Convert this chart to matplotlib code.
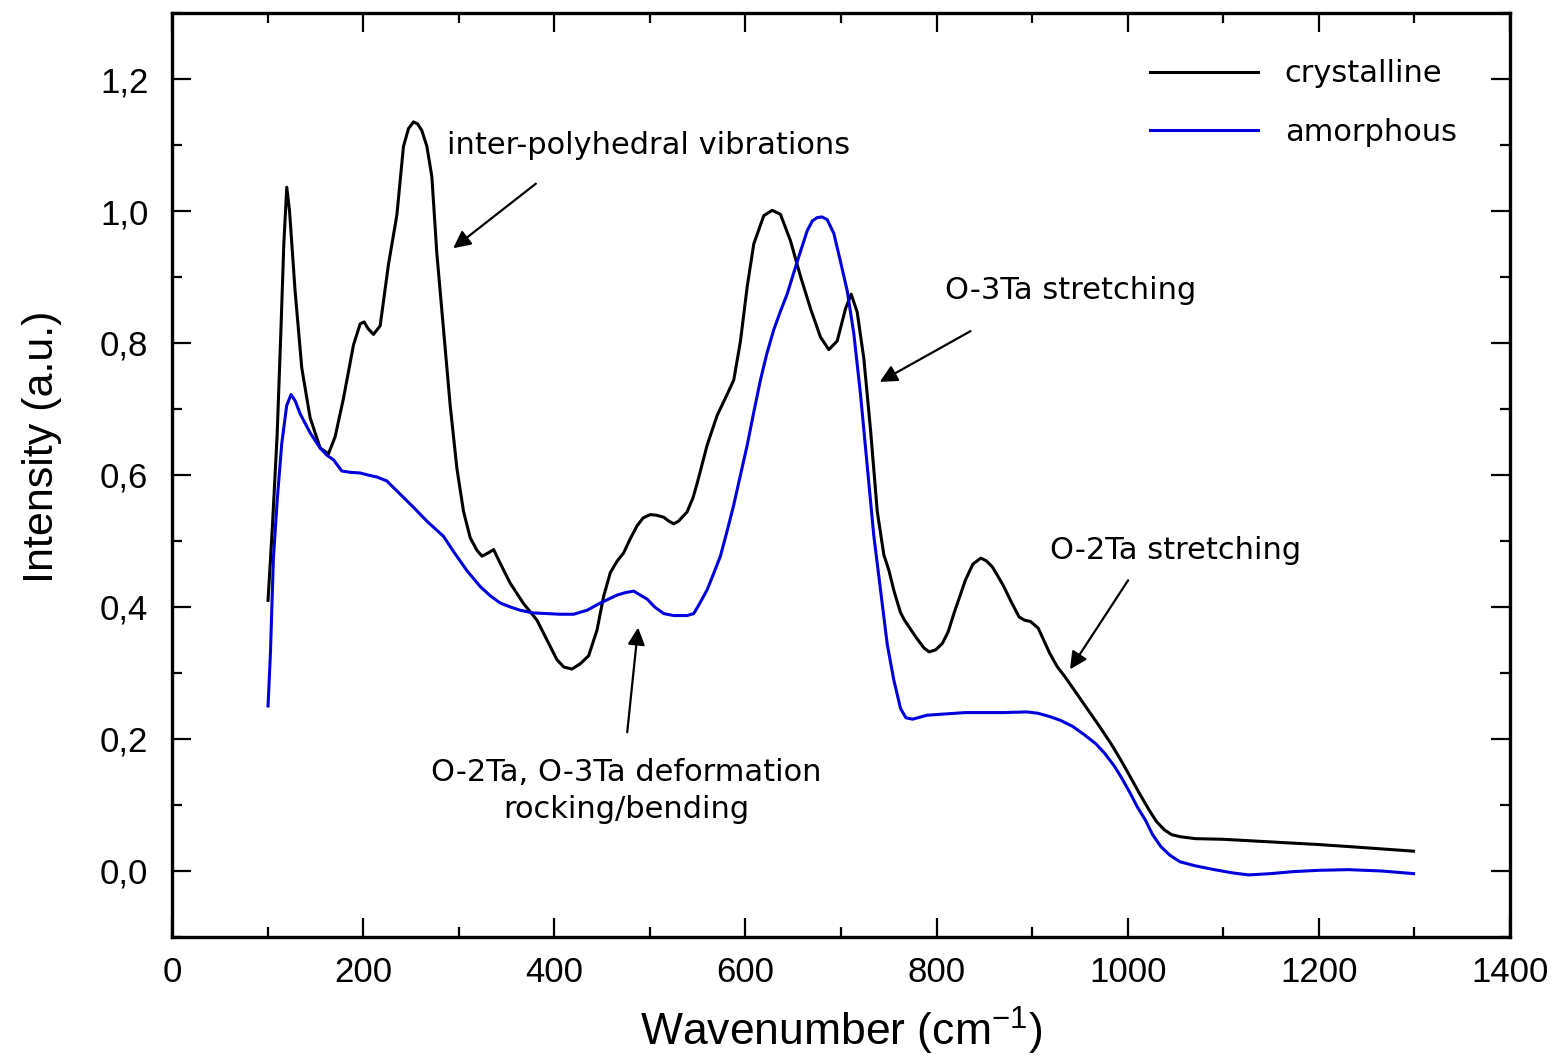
import matplotlib
matplotlib.use("Agg")
import matplotlib.pyplot as plt
from matplotlib.ticker import MultipleLocator, FuncFormatter

# Raman spectra of Ta2O5: crystalline vs amorphous
wn_cryst = [100.5, 105, 110, 114, 117, 120.1, 123, 128.8, 135.8, 144.5, 155, 163.7, 170.7,
            179.4, 189.9, 196.9, 201, 205, 210.8, 217.8, 226.5, 235.3, 242.2, 247.5, 252.7,
            257, 261.4, 266.7, 271.9, 277.1, 284.1, 291.1, 298.1, 305, 312, 319, 324.3, 331,
            336.5, 343.5, 353.9, 367.9, 381.9, 392.3, 402.8, 410, 418.5, 427.2, 435.9, 444.7,
            451.6, 458.6, 466, 472.6, 479, 486.6, 493, 500.5, 507, 514.5, 520, 525, 530, 538.9,
            545, 549.4, 559.9, 570.3, 580.8, 587.8, 594.8, 601.8, 608.7, 619.2, 628, 636.6,
            647.1, 657.6, 668.1, 678.5, 687.2, 696, 704.7, 710.6, 716.9, 723.9, 730.9, 737.9,
            744.8, 750, 755.3, 762.1, 766, 778, 786.7, 792.2, 799, 806.1, 812, 818.1, 824,
            830.2, 838, 846.2, 852, 858.2, 864, 870.3, 878, 886.3, 892, 898.3, 906.3, 912,
            918.3, 926, 934.4, 946, 958.4, 970, 982.4, 992, 1002.5, 1012, 1022.5, 1030, 1038.5,
            1046, 1054.5, 1070.6, 1100, 1150.7, 1200, 1230.9, 1270, 1299]
int_cryst = [0.41, 0.52, 0.66, 0.82, 0.95, 1.036, 1.00, 0.879, 0.762, 0.687, 0.641, 0.632, 0.658,
             0.716, 0.797, 0.829, 0.832, 0.822, 0.813, 0.826, 0.919, 0.994, 1.098, 1.125, 1.135,
             1.132, 1.122, 1.098, 1.052, 0.936, 0.820, 0.705, 0.610, 0.545, 0.505, 0.486, 0.477,
             0.482, 0.487, 0.466, 0.436, 0.405, 0.380, 0.350, 0.320, 0.309, 0.306, 0.314, 0.326,
             0.365, 0.416, 0.452, 0.470, 0.482, 0.502, 0.523, 0.535, 0.540, 0.539, 0.536, 0.530,
             0.526, 0.530, 0.544, 0.565, 0.587, 0.645, 0.690, 0.722, 0.744, 0.803, 0.885, 0.950,
             0.993, 1.001, 0.995, 0.955, 0.901, 0.852, 0.809, 0.790, 0.803, 0.852, 0.874, 0.847,
             0.776, 0.668, 0.545, 0.479, 0.456, 0.425, 0.392, 0.381, 0.355, 0.338, 0.332, 0.335,
             0.345, 0.362, 0.390, 0.415, 0.441, 0.465, 0.474, 0.470, 0.461, 0.447, 0.431, 0.408,
             0.385, 0.380, 0.378, 0.368, 0.350, 0.330, 0.310, 0.294, 0.270, 0.244, 0.220, 0.193,
             0.170, 0.143, 0.118, 0.092, 0.075, 0.062, 0.055, 0.052, 0.049, 0.048, 0.044, 0.040,
             0.037, 0.033, 0.030]

wn_amor = [100.5, 103, 106.1, 110, 114.8, 120, 124.6, 129, 134, 144.5, 155, 162, 169, 177.7,
           187, 196.9, 205, 214.3, 224.8, 231, 238.7, 252.7, 266.7, 284.1, 294.6, 308.6, 322.5,
           333, 343.5, 354, 364.4, 378, 392.3, 406, 420.2, 434.2, 448.2, 465.6, 475, 483.1, 490,
           497.1, 505, 514.5, 525, 538.9, 545.9, 552, 559.9, 566, 573.8, 580.8, 587.8, 594.8,
           601.8, 608.7, 615.7, 622.6, 629.6, 636.6, 643.6, 654.1, 664.6, 670, 675, 680, 685.5,
           692.5, 699.5, 706.5, 713.4, 720.4, 727.4, 734.3, 741.4, 748.4, 755.3, 762.3, 768, 775,
           790, 810, 830.2, 850, 870.3, 894.3, 906, 918.3, 930, 942.4, 954, 966.4, 976, 986.4,
           994, 1002.5, 1010, 1018.5, 1026, 1034.6, 1044, 1054.5, 1070, 1090.6, 1110, 1126.7,
           1150, 1172.8, 1200, 1230.9, 1265, 1299]
int_amor = [0.25, 0.33, 0.473, 0.56, 0.647, 0.705, 0.722, 0.712, 0.693, 0.664, 0.641, 0.630,
            0.623, 0.606, 0.604, 0.603, 0.600, 0.597, 0.591, 0.582, 0.571, 0.551, 0.530, 0.507,
            0.484, 0.455, 0.431, 0.417, 0.406, 0.400, 0.395, 0.391, 0.390, 0.389, 0.389, 0.395,
            0.406, 0.418, 0.422, 0.424, 0.418, 0.412, 0.400, 0.390, 0.387, 0.387, 0.390, 0.405,
            0.426, 0.448, 0.477, 0.515, 0.555, 0.600, 0.645, 0.695, 0.744, 0.785, 0.820, 0.848,
            0.874, 0.923, 0.970, 0.985, 0.990, 0.991, 0.987, 0.966, 0.923, 0.879, 0.814, 0.722,
            0.614, 0.508, 0.425, 0.343, 0.289, 0.246, 0.232, 0.230, 0.236, 0.238, 0.240, 0.240,
            0.240, 0.241, 0.239, 0.234, 0.228, 0.219, 0.207, 0.193, 0.178, 0.158, 0.140, 0.118,
            0.097, 0.077, 0.055, 0.037, 0.024, 0.014, 0.008, 0.002, -0.003, -0.006, -0.004,
            -0.001, 0.001, 0.002, 0.000, -0.004]

series_labels = ["crystalline", "amorphous"]

ANN_FONT = "DejaVu Sans"
AX_FONT = "Liberation Sans"

fig = plt.figure(figsize=(15.55, 10.58), dpi=100)
ax = fig.add_axes([0.1106, 0.1144, 0.8605, 0.8733])

ax.plot(wn_cryst, int_cryst, color="black", lw=2.2, label=series_labels[0])
ax.plot(wn_amor, int_amor, color="#0000dd", lw=2.2, label=series_labels[1])

ax.set_xlim(0, 1400)
ax.set_ylim(-0.1, 1.3)
ax.xaxis.set_major_locator(MultipleLocator(200))
ax.xaxis.set_minor_locator(MultipleLocator(100))
ax.yaxis.set_major_locator(MultipleLocator(0.2))
ax.yaxis.set_minor_locator(MultipleLocator(0.1))
ax.yaxis.set_major_formatter(FuncFormatter(lambda v, p: f"{v:.1f}".replace(".", ",")))

ax.tick_params(which="both", direction="in", top=True, right=True, width=1.6, labelsize=25)
ax.tick_params(axis="x", pad=14)
ax.tick_params(axis="y", pad=17)
ax.tick_params(which="major", length=14)
ax.tick_params(which="minor", length=7)
for lab in ax.get_xticklabels() + ax.get_yticklabels():
    lab.set_fontfamily(AX_FONT)
for sp in ax.spines.values():
    sp.set_linewidth(2.4)

ax.set_xlabel("Wavenumber (cm$^{\\mathregular{-1}}$)", fontsize=32, fontfamily=AX_FONT)
ax.set_ylabel("Intensity (a.u.)", fontsize=31, fontfamily=AX_FONT)
ax.xaxis.set_label_coords(0.5, -0.073)
ax.yaxis.set_label_coords(-0.0822, 0.531)

leg = ax.legend(loc="upper left", bbox_to_anchor=(0.731, 0.950), frameon=False,
                handlelength=3.53, handletextpad=0.88, labelspacing=0.98, borderpad=0,
                borderaxespad=0, prop={"family": ANN_FONT, "size": 22})

arrow = dict(arrowstyle="-|>", color="black", lw=1.6, mutation_scale=26)
ann_kw = dict(fontsize=22, fontfamily=ANN_FONT)

ax.annotate("", xy=(292, 0.941), xytext=(383, 1.044), arrowprops=arrow)
ax.text(288, 1.10, "inter-polyhedral vibrations", ha="left", va="center", **ann_kw)

ax.annotate("", xy=(738, 0.739), xytext=(838, 0.820), arrowprops=arrow)
ax.text(809, 0.879, "O-3Ta stretching", ha="left", va="center", **ann_kw)

ax.annotate("", xy=(938, 0.302), xytext=(1002, 0.444), arrowprops=arrow)
ax.text(919, 0.485, "O-2Ta stretching", ha="left", va="center", **ann_kw)

ax.annotate("", xy=(488, 0.373), xytext=(476, 0.206), arrowprops=arrow)
ax.text(475, 0.121, "O-2Ta, O-3Ta deformation\nrocking/bending", ha="center", va="center",
        linespacing=1.35, **ann_kw)

fig.savefig("out.png", dpi=100)
